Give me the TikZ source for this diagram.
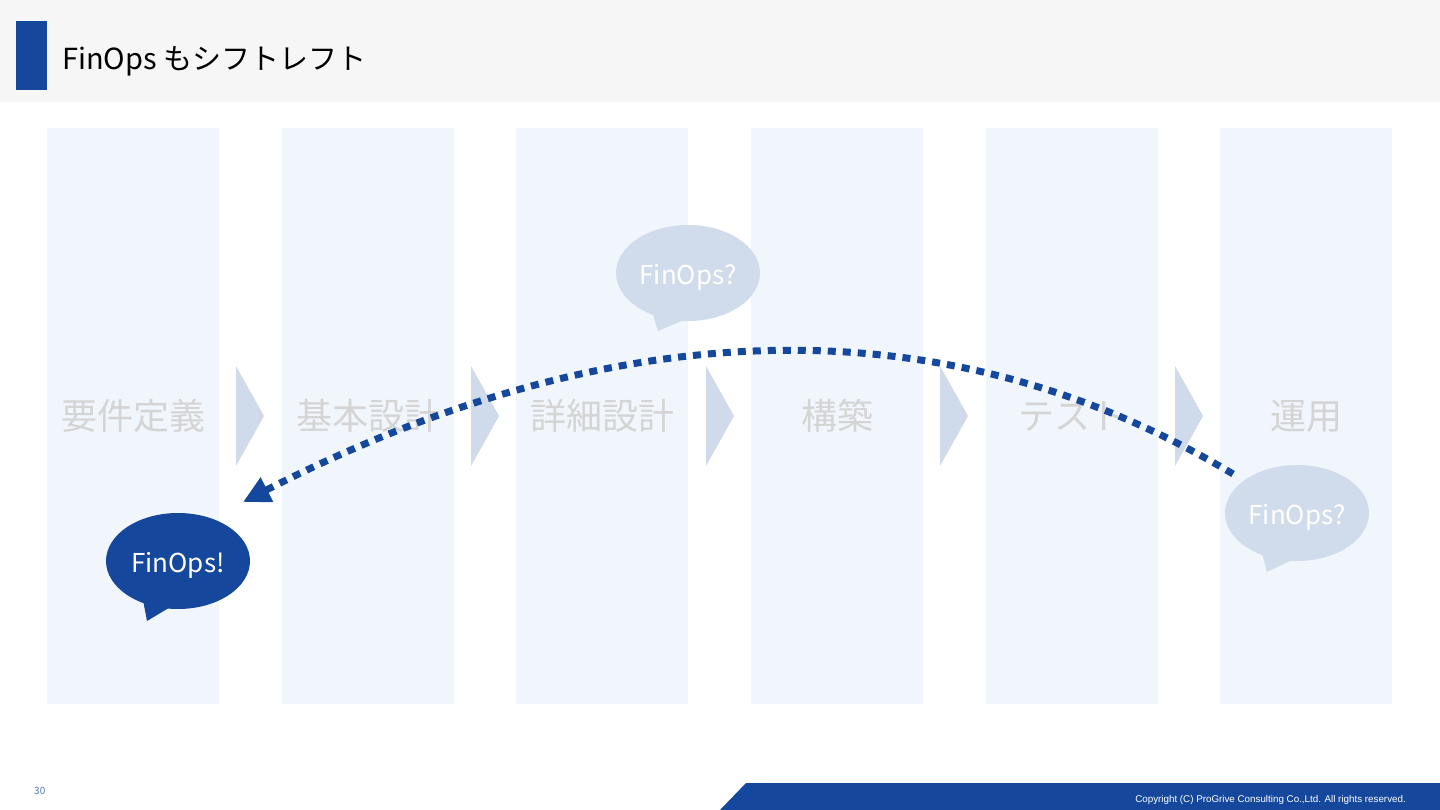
\documentclass[tikz,border=0pt]{standalone}
\usepackage{fontspec}
\setmainfont{Noto Sans CJK JP}
\newfontfamily\copyfont{Liberation Sans}
\usetikzlibrary{shapes.geometric,arrows.meta}
\definecolor{hdrgray}{HTML}{F6F6F6}
\definecolor{mainblue}{HTML}{15489D}
\definecolor{colbg}{HTML}{F1F6FD}
\definecolor{chev}{HTML}{CFDBEA}
\definecolor{bubblelight}{HTML}{D0DCEB}
\definecolor{lblgray}{HTML}{D4D4D4}
\definecolor{pgblue}{HTML}{4A78B8}
\tikzset{
  column/.style={fill=colbg, draw=none},
  chevron/.style={fill=chev, draw=none},
  phaselabel/.style={text=lblgray, font=\fontsize{36}{42}\selectfont, inner sep=0pt},
  bubble/.style={ellipse, minimum width=144pt, minimum height=96pt, inner sep=0pt},
  bubbletext/.style={text=white, font=\fontsize{26}{30}\selectfont, inner sep=0pt, yshift=-4pt},
  dashedarc/.style={draw=mainblue, line width=7pt, dash pattern=on 8pt off 7pt},
}
\begin{document}
\begin{tikzpicture}[x=1pt,y=-1pt]
\useasboundingbox[fill=white] (0,0) rectangle (1440,810);
% header
\fill[hdrgray] (0,0) rectangle (1440,102);
\fill[mainblue] (16,21) rectangle (47,90);
\node[anchor=base west, inner sep=0pt, font=\fontsize{29}{34}\selectfont] (title) at (62,70) {FinOps もシフトレフト};
% columns
\foreach \x/\n in {47/c1,282/c2,516/c3,751/c4,986/c5,1220/c6}{
  \fill[column] (\x,128) rectangle ++(172,576);
}
% chevrons
\foreach \x in {236,471,706,940,1175}{
  \fill[chevron] (\x,366) -- (\x+28,416) -- (\x,466) -- cycle;
}
% labels
\node[phaselabel] (l1) at (133,416) {要件定義};
\node[phaselabel] (l2) at (368,416) {基本設計};
\node[phaselabel] (l3) at (602,416) {詳細設計};
\node[phaselabel] (l4) at (837,416) {構築};
\node[phaselabel] (l5) at (1072,416) {テスト};
\node[phaselabel] (l6) at (1306,416) {運用};
% bubbles
\fill[bubblelight] (652,312) -- (658,331) -- (684,320) -- cycle;
\node[bubble, fill=bubblelight, label={[bubbletext]center:FinOps?}] (b2) at (688,273) {};
\fill[bubblelight] (1262,553) -- (1267,572) -- (1292,560) -- cycle;
\node[bubble, fill=bubblelight, label={[bubbletext]center:FinOps?}] (b3) at (1297,513) {};
\fill[mainblue] (143,600) -- (147,621) -- (172,606) -- cycle;
\node[bubble, fill=mainblue, label={[bubbletext]center:FinOps!}] (b1) at (178,561) {};
% arc
\coordinate (arcstart) at (1233,474);
\coordinate (arcend) at (243,502);
\draw[dashedarc, -{Triangle[length=27pt,width=26pt]}] (arcstart) .. controls (946,302) and (616,311) .. (arcend);
% footer
\fill[mainblue] (720,810) -- (746,783) -- (1440,783) -- (1440,810) -- cycle;
\node[anchor=east, inner sep=0pt, text=white, font=\copyfont\fontsize{9.8}{12}\selectfont] (copy) at (1406,800) {Copyright (C) ProGrive Consulting Co.,Ltd. All rights reserved.};
\node[anchor=west, inner sep=0pt, text=pgblue, font=\fontsize{10}{12}\selectfont] (page) at (34,791) {30};
\end{tikzpicture}
\end{document}
